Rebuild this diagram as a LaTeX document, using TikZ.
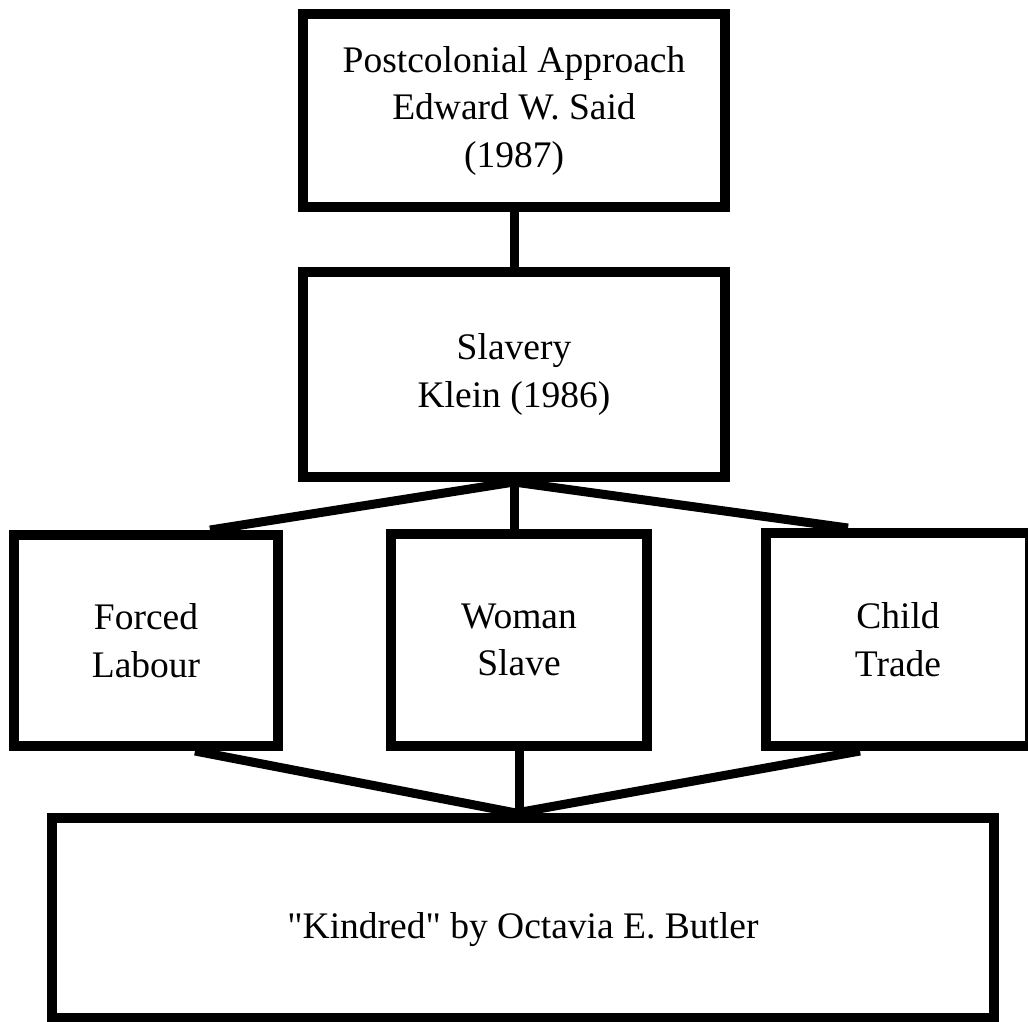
\documentclass[tikz,border=0pt]{standalone}
\usepackage{fontspec}
\setmainfont{Liberation Serif}[Ligatures=TeXOff]
\begin{document}
\begin{tikzpicture}[x=1pt,y=-1pt,
  box/.style={draw=black, line width=10pt, fill=white, align=center,
    font=\fontsize{37.5}{47.5}\selectfont, inner sep=0pt},
  link/.style={line width=9pt, draw=black}]
\fill[white] (0,0) rectangle (1028,1021);
\useasboundingbox (0,0) rectangle (1028,1021);
\clip (0,0) rectangle (1028,1021);
\node[box, minimum width=422pt, minimum height=193pt] (top) at (514,110.5)
  {Postcolonial Approach\\Edward W. Said\\(1987)};
\node[box, minimum width=422pt, minimum height=205pt] (slavery) at (514,374.5)
  {Slavery\\Klein (1986)};
\node[box, minimum width=264pt, minimum height=211pt] (forced) at (146,640.5)
  {Forced\\Labour};
\node[box, minimum width=256pt, minimum height=212pt] (woman) at (519,640)
  {Woman\\Slave};
\node[box, minimum width=264pt, minimum height=213pt] (child) at (898,639.5)
  {Child\\Trade};
\node[box, minimum width=942pt, minimum height=200pt] (kindred) at (523,918)
  {\raisebox{-20pt}[0pt][0pt]{"Kindred" by Octavia E. Butler}};
\coordinate (join) at (516,813);
\draw[link] (top.south) -- (slavery.north);
\draw[link] (slavery.south) -- ([xshift=64pt]forced.north);
\draw[link] (slavery.south) -- (slavery.south |- woman.north);
\draw[link] (slavery.south) -- ([xshift=-50pt]child.north);
\draw[link] ([xshift=49pt]forced.south) -- (join);
\draw[link] (woman.south) -- (woman.south |- join);
\draw[link] ([xshift=-38pt]child.south) -- (join);
\end{tikzpicture}
\end{document}
